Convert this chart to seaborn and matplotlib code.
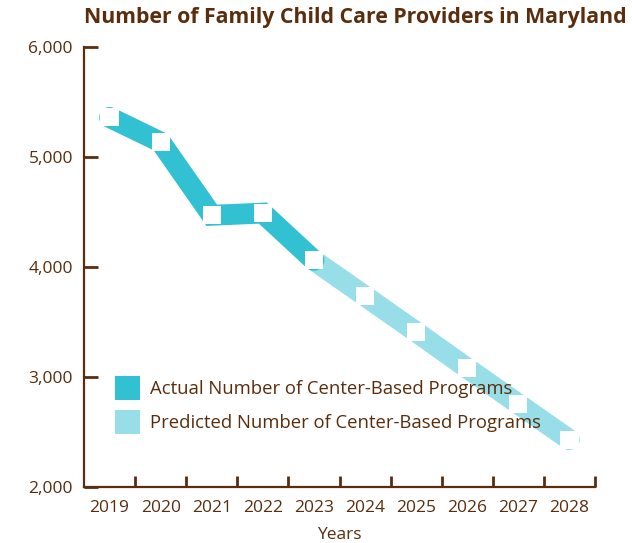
import matplotlib
matplotlib.use("Agg")
import matplotlib.pyplot as plt
import seaborn as sns
import pandas as pd
from matplotlib.patches import Patch

years = [2019, 2020, 2021, 2022, 2023, 2024, 2025, 2026, 2027, 2028]
actual_years = [2019, 2020, 2021, 2022, 2023]
actual_values = [5360, 5135, 4470, 4490, 4060]
predicted_years = [2023, 2024, 2025, 2026, 2027, 2028]
predicted_values = [4060, 3735, 3410, 3080, 2755, 2430]
yticks = [2000, 3000, 4000, 5000, 6000]
ytick_labels = ["2,000", "3,000", "4,000", "5,000", "6,000"]
legend_labels = ["Actual Number of Center-Based Programs",
                 "Predicted Number of Center-Based Programs"]
title = "Number of Family Child Care Providers in Maryland"
xlabel = "Years"

BROWN = "#5a2d0c"
ACTUAL = "#31c1d3"
PRED = "#97dee8"

sns.set_theme(style="white")
plt.rcParams["font.family"] = ["Open Sans", "DejaVu Sans"]

pos = {y: i for i, y in enumerate(years)}
df_a = pd.DataFrame({"x": [pos[y] for y in actual_years], "v": actual_values})
df_p = pd.DataFrame({"x": [pos[y] for y in predicted_years], "v": predicted_values})

fig = plt.figure(figsize=(6.32, 5.43), dpi=100)
ax = fig.add_axes([84 / 632, 1 - 487 / 543, (595 - 84) / 632, (487 - 47) / 543])

lw = 15
sns.lineplot(data=df_p, x="x", y="v", ax=ax, color=PRED, linewidth=lw,
             solid_capstyle="round", solid_joinstyle="miter", zorder=2)
sns.lineplot(data=df_a, x="x", y="v", ax=ax, color=ACTUAL, linewidth=lw,
             solid_capstyle="round", solid_joinstyle="miter", zorder=3)
all_x = list(df_a["x"]) + list(df_p["x"])[1:]
all_v = list(df_a["v"]) + list(df_p["v"])[1:]
sns.scatterplot(x=all_x, y=all_v, ax=ax, marker="s", s=170, color="white",
                edgecolor="none", linewidth=0, zorder=5)

fs = 12.5
ax.set_xlim(-0.5, len(years) - 0.5)
ax.set_ylim(2000, 6000)
ax.set_yticks(yticks)
ax.set_yticklabels(ytick_labels)
ax.set_xticks(range(len(years)))
ax.set_xticklabels([str(y) for y in years])
ax.tick_params(axis="x", length=0, pad=9, labelsize=fs, labelcolor=BROWN)
ax.tick_params(axis="y", direction="in", length=10, width=2, color=BROWN,
               pad=8, labelsize=fs, labelcolor=BROWN, left=True)
ax.set_xticks([i + 0.5 for i in range(len(years))], minor=True)
ax.tick_params(axis="x", which="minor", direction="in", length=8, width=2,
               color=BROWN, bottom=True)

for s in ["top", "right"]:
    ax.spines[s].set_visible(False)
for s in ["left", "bottom"]:
    ax.spines[s].set_color(BROWN)
    ax.spines[s].set_linewidth(1.6)

ax.set_xlabel(xlabel, fontsize=fs, color=BROWN, labelpad=8)
ax.set_ylabel("")

handles = [Patch(facecolor=ACTUAL, edgecolor="none"),
           Patch(facecolor=PRED, edgecolor="none")]
ax.legend(handles, legend_labels, loc="upper left",
          bbox_to_anchor=(0.061, 0.252), frameon=False, fontsize=13.3,
          labelcolor=BROWN, handlelength=1.35, handleheight=1.6,
          labelspacing=0.55, handletextpad=0.55, borderaxespad=0,
          borderpad=0)

fig.text(627 / 632, 1 - 18 / 543, title, ha="right", va="center",
         fontsize=15.3, fontweight="bold", color=BROWN)

fig.savefig("out.png", dpi=100, facecolor="white")
